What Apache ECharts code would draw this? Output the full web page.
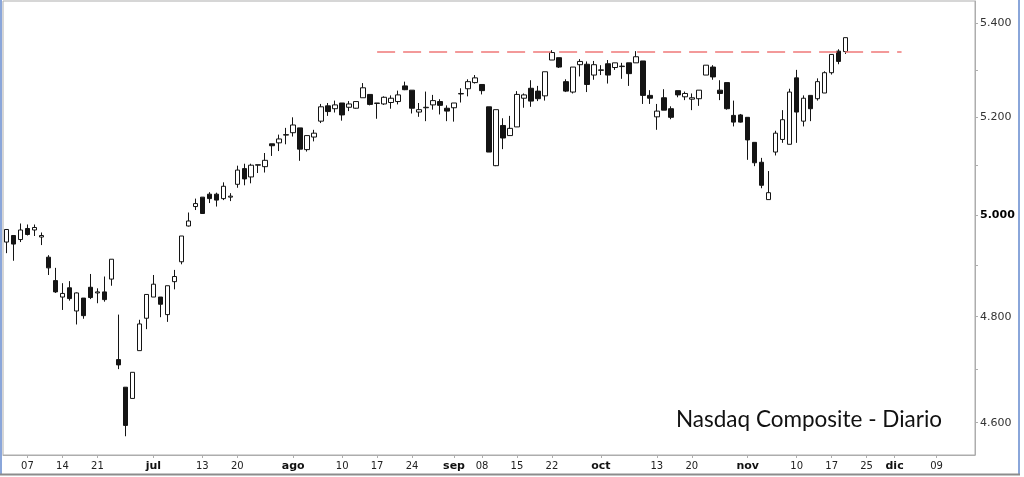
<!DOCTYPE html>
<html><head><meta charset="utf-8">
<script src="https://cdn.jsdelivr.net/npm/echarts@6/dist/echarts.min.js"></script>
<style>html,body{margin:0;padding:0;background:#fff}#c{width:1024px;height:477px}</style>
</head><body><div id="c"></div>
<script>
// Trading days (2016), June 2 -> Dec 16
const dates = [
'06-02','06-03','06-06','06-07','06-08','06-09','06-10','06-13','06-14','06-15','06-16','06-17','06-20','06-21','06-22','06-23','06-24','06-27','06-28','06-29','06-30',
'07-01','07-05','07-06','07-07','07-08','07-11','07-12','07-13','07-14','07-15','07-18','07-19','07-20','07-21','07-22','07-25','07-26','07-27','07-28','07-29',
'08-01','08-02','08-03','08-04','08-05','08-08','08-09','08-10','08-11','08-12','08-15','08-16','08-17','08-18','08-19','08-22','08-23','08-24','08-25','08-26','08-29','08-30','08-31',
'09-01','09-02','09-06','09-07','09-08','09-09','09-12','09-13','09-14','09-15','09-16','09-19','09-20','09-21','09-22','09-23','09-26','09-27','09-28','09-29','09-30',
'10-03','10-04','10-05','10-06','10-07','10-10','10-11','10-12','10-13','10-14','10-17','10-18','10-19','10-20','10-21','10-24','10-25','10-26','10-27','10-28','10-31',
'11-01','11-02','11-03','11-04','11-07','11-08','11-09','11-10','11-11','11-14','11-15','11-16','11-17','11-18','11-21','11-22','11-23','11-25','11-28','11-29','11-30',
'12-01','12-02','12-05','12-06','12-07','12-08','12-09','12-12','12-13','12-14','12-15','12-16'
];
const open = [4946,4959,4951,4973,4970,4956,4916,4870,4838,4856, 4811,4836,4857,4846,4848,4873,4718,4666,4645,4735,
4797,4838,4838,4804,4868,4907,4978,5017,5036,5042, 5042,5033,5036,5062,5094,5077,5101,5098,5145,5147,
5163,5168,5178,5133,5159,5192,5224,5218,5230,5221, 5219,5241,5248,5229,5228,5231,5233,5266,5257,5211,
5220,5226,5233,5219,5220,5249,5260,5273,5269,5222, 5100,5183,5162,5180,5240,5261,5255,5245,5321,5326,
5275,5253,5311,5312,5289,5299,5313,5305,5307,5315, 5315,5319,5246,5201,5241,5218,5256,5243,5238,5239,
5289,5306,5257,5273,5204,5205,5200,5148,5107,5031, 5128,5154,5144,5283,5192,5246,5239,5251,5294,5340,
5339];
const close = [4971,4942,4970,4961,4975,4959,4895,4848,4845,4835, 4846,4802,4837,4848,4833,4912,4708,4595,4694,4786,
4843,4863,4824,4860,4878,4958,4988,5023,5003,5033, 5030,5058,5038,5091,5073,5101,5102,5111,5141,5155,
5164,5184,5134,5162,5167,5222,5212,5226,5205,5228, 5233,5262,5227,5230,5242,5240,5247,5258,5219,5216,
5221,5235,5225,5213,5230,5250,5275,5283,5256,5128, 5216,5157,5177,5248,5247,5234,5239,5296,5337,5306,
5255,5306,5318,5269,5311,5300,5289,5315,5308,5292, 5328,5246,5240,5213,5215,5200,5247,5250,5241,5257,
5310,5285,5250,5218,5190,5190,5153,5106,5060,5045, 5167,5195,5253,5211,5240,5218,5275,5294,5333,5318,
5369];
const low = [4924,4909,4946,4959,4958,4940,4881,4846,4813,4831, 4785,4796,4834,4826,4829,4860,4700,4575,4645,4735,
4776,4838,4799,4790,4853,4902,4977,5010,5002,5024, 5017,5030,5028,5055,5060,5064,5085,5086,5120,5130,
5144,5160,5110,5129,5150,5188,5203,5210,5193,5213, 5218,5241,5225,5197,5226,5218,5227,5257,5208,5201,
5192,5216,5206,5192,5191,5231,5244,5271,5248,5128, 5099,5134,5162,5180,5220,5222,5234,5235,5321,5304,
5253,5250,5286,5253,5279,5289,5271,5300,5281,5266, 5315,5228,5228,5174,5215,5196,5242,5236,5215,5224,
5289,5279,5236,5216,5181,5189,5112,5099,5054,5031, 5121,5147,5144,5147,5181,5192,5235,5251,5290,5312,
5334];
const high = [4972,4960,4983,4981,4981,4965,4920,4895,4865,4869, 4847,4836,4883,4855,4878,4912,4804,4666,4694,4794,
4843,4881,4838,4860,4891,4958,5005,5033,5036,5046, 5045,5066,5044,5100,5104,5104,5102,5126,5145,5164,
5178,5200,5178,5162,5174,5228,5230,5235,5230,5234, 5233,5272,5248,5230,5244,5246,5256,5275,5257,5230,
5254,5247,5238,5225,5230,5261,5280,5289,5269,5222, 5216,5198,5203,5255,5250,5278,5266,5296,5342,5326,
5280,5306,5323,5318,5319,5310,5321,5315,5315,5315, 5340,5319,5257,5228,5259,5223,5256,5254,5250,5257,
5310,5310,5278,5273,5235,5207,5200,5148,5116,5089, 5172,5215,5260,5300,5246,5246,5282,5297,5333,5344,
5369];
const tickDates  = ['06-07','06-14','06-21','07-01','07-13','07-20','08-01','08-10','08-17','08-24','09-01','09-08','09-15','09-22','10-03','10-13','10-20','11-01','11-10','11-17','11-25','12-01','12-09'];
const tickLabels = ['07','14','21','jul','13','20','ago','10','17','24','sep','08','15','22','oct','13','20','nov','10','17','25','dic','09'];
const monthLabels = ['jul','ago','sep','oct','nov','dic'];
const yLabelValues = [4600,4800,5000,5200,5400];
const yMinorValues = [4700,4900,5100,5300];
const yRange = [4540.7, 5448.6];
const resistanceLevel = 5339;
const resistanceFrom = '08-17', resistanceTo = '12-02';
const chartTitle = 'Nasdaq Composite - Diario';

const L = Math.log;
const tickMap = {};
tickDates.forEach((d,i)=>{ tickMap[d] = tickLabels[i]; });
const candles = open.map((o,i)=>[L(o), L(close[i]), L(low[i]), L(high[i])]);
function fmtThousands(n){ return String(n).replace(/\B(?=(\d{3})+(?!\d))/g,'.'); }

const chart = echarts.init(document.getElementById('c'), null, {renderer:'canvas'});
chart.setOption({
  animation:false,
  backgroundColor:'#fff',
  grid:{left:3,right:49,top:1,bottom:22,show:true,borderColor:'#adadad',borderWidth:1,backgroundColor:'#fff'},
  xAxis:{
    type:'category', data:dates, boundaryGap:true,
    axisLine:{show:true,lineStyle:{color:'#adadad',width:1}},
    axisTick:{show:true,alignWithLabel:true,length:3,lineStyle:{color:'#adadad'},interval:(idx,val)=>tickMap[val]!==undefined},
    axisLabel:{
      interval:(idx,val)=>tickMap[val]!==undefined,
      margin:6, color:'#222', fontFamily:'DejaVu Sans', fontSize:10,
      formatter:(val)=>{ const t = tickMap[val]; if(t===undefined) return ''; return monthLabels.includes(t) ? '{b|'+t+'}' : t; },
      rich:{b:{fontWeight:'bold',fontFamily:'DejaVu Sans',fontSize:11,color:'#111'}}
    },
    splitLine:{show:false}
  },
  yAxis:{
    type:'value', position:'right', scale:true,
    min:L(yRange[0]), max:L(yRange[1]),
    axisLine:{show:true,lineStyle:{color:'#adadad'}},
    axisTick:{show:true,length:3,lineStyle:{color:'#adadad'},customValues:yLabelValues.concat(yMinorValues).map(L)},
    axisLabel:{
      customValues:yLabelValues.map(L), margin:5, color:'#333', fontFamily:'DejaVu Sans', fontSize:11,
      formatter:(v)=>{ const n = Math.round(Math.exp(v)); const s = fmtThousands(n); return n===5000 ? '{b|'+s+'}' : s; },
      rich:{b:{fontWeight:'bold',color:'#000',fontFamily:'DejaVu Sans',fontSize:11}}
    },
    splitLine:{show:false}
  },
  series:[{
    type:'candlestick', data:candles, barWidth:5,
    itemStyle:{color:'#ffffff',color0:'#141414',borderColor:'#141414',borderColor0:'#141414',borderWidth:1},
    markLine:{
      silent:true, symbol:['none','none'], label:{show:false},
      lineStyle:{color:'#f07878',width:1.5,type:[18,8]},
      data:[[{coord:[resistanceFrom,L(resistanceLevel)]},{coord:[resistanceTo,L(resistanceLevel)]}]]
    }
  }],
  graphic:[
    {type:'text',left:676,top:408,style:{text:chartTitle,font:'22.5px Lato',fill:'#111'},z:10},
    {type:'line',shape:{x1:1,y1:0,x2:1,y2:475},style:{stroke:'#8aa6da',lineWidth:2},z:10},
    {type:'line',shape:{x1:1019,y1:0,x2:1019,y2:475},style:{stroke:'#8aa6da',lineWidth:2},z:10},
    {type:'line',shape:{x1:0,y1:474.5,x2:1020,y2:474.5},style:{stroke:'#8c8c8c',lineWidth:2},z:10}
  ]
});
</script></body></html>
